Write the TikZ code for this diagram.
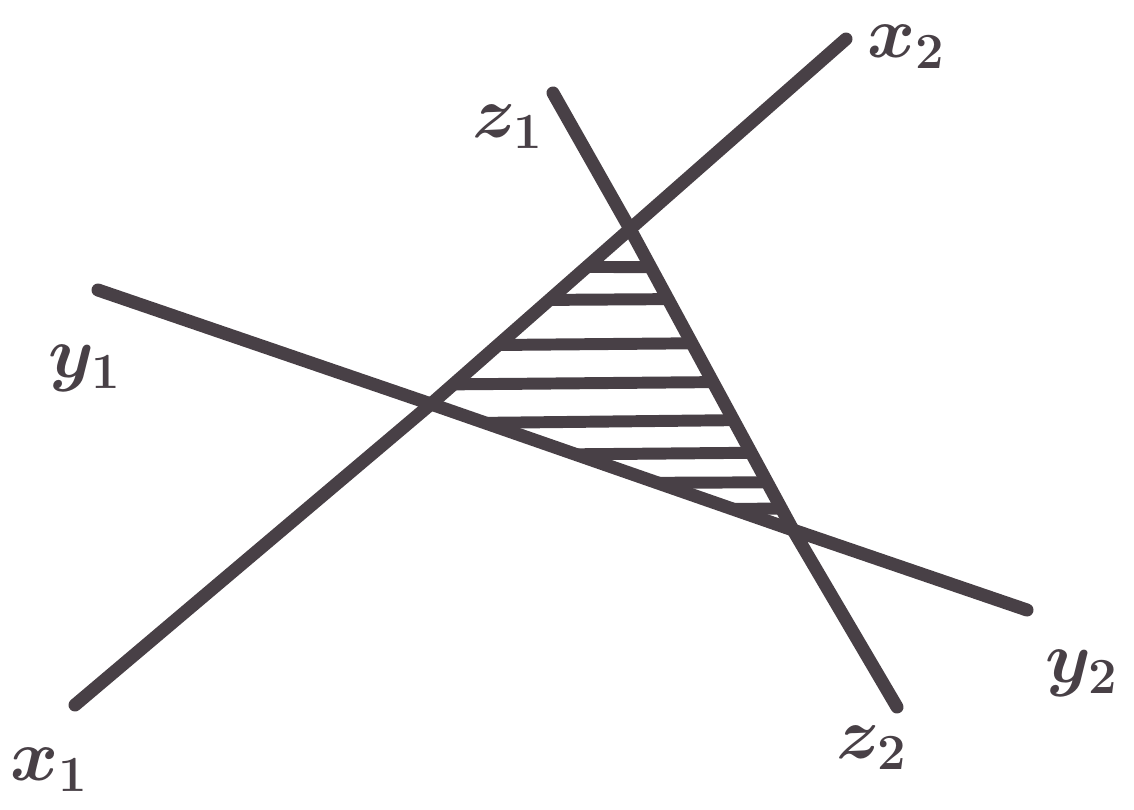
\documentclass[tikz,border=0pt]{standalone}
\usetikzlibrary{positioning}
\definecolor{ink}{RGB}{72,64,70}
\tikzset{
  pen/.style={draw=ink,line width=3.7pt,line cap=round,line join=round},
  hatch/.style={draw=ink,line width=3.4pt},
  lbl/.style={text=ink,inner sep=0pt,font=\fontsize{21}{23}\selectfont\boldmath},
}
\begin{document}
\begin{tikzpicture}[x=0.01cm,y=-0.01cm]
  \useasboundingbox (0,0) rectangle (1134,809);

  % ends of the three lines
  \coordinate (xa) at (75,705);
  \coordinate (xb) at (846,39);
  \coordinate (ya) at (98,290);
  \coordinate (yb) at (1027,610);
  \coordinate (za) at (553,93);
  \coordinate (zb) at (897,707);
  % corners of the shaded triangle
  \coordinate (xy) at (431,404);
  \coordinate (xz) at (630,229);
  \coordinate (yz) at (793,530);

  % hatching
  \begin{scope}
    \clip (xy) -- (xz) -- (yz) -- cycle;
    \foreach \hl/\hr in {266/268,301/298,346/342,385/381,424/419,456/452,484/482,512/508}
      \draw[hatch] (380,\hl) -- (840,\hr);
  \end{scope}

  \draw[pen] (xa) -- (xy) -- (xz) -- (xb);
  \draw[pen] (ya) -- (xy) -- (yz) -- (yb);
  \draw[pen] (za) -- (xz) -- (yz) -- (zb);

  \node[lbl] (lx1) at (50,770) {$x_1$};
  \node[lbl] (lx2) at (907,47) {$x_2$};
  \node[lbl] (ly1) at (85,368) {$y_1$};
  \node[lbl] (ly2) at (1082,673) {$y_2$};
  \node[lbl] (lz1) at (508,127) {$z_1$};
  \node[lbl] (lz2) at (872,748) {$z_2$};
\end{tikzpicture}
\end{document}
